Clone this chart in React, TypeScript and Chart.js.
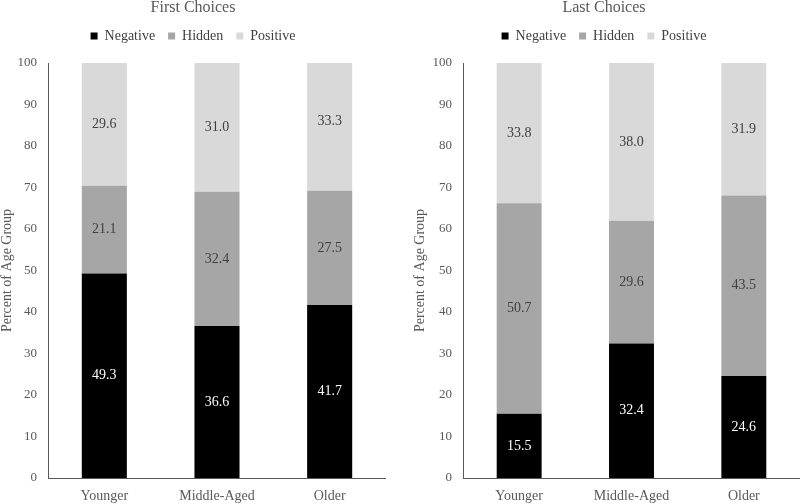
import React, { useEffect, useRef } from "react";
import { Chart, registerables } from "chart.js";

Chart.register(...registerables);

const categories = ["Younger", "Middle-Aged", "Older"];
const seriesNames = ["Negative", "Hidden", "Positive"];
const seriesColors = ["#000000", "#a6a6a6", "#d9d9d9"];
const labelColors = ["#ffffff", "#404040", "#404040"];

const firstNegative = [49.3, 36.6, 41.7];
const firstHidden = [21.1, 32.4, 27.5];
const firstPositive = [29.6, 31.0, 33.3];

const lastNegative = [15.5, 32.4, 24.6];
const lastHidden = [50.7, 29.6, 43.5];
const lastPositive = [33.8, 38.0, 31.9];

const FONT = "'Liberation Serif', 'Times New Roman', serif";

const valueLabels = {
  id: "valueLabels",
  afterDatasetsDraw(chart: any) {
    const ctx = chart.ctx;
    ctx.save();
    ctx.font = `14px ${FONT}`;
    ctx.textAlign = "center";
    ctx.textBaseline = "middle";
    chart.data.datasets.forEach((ds: any, di: number) => {
      const meta = chart.getDatasetMeta(di);
      meta.data.forEach((el: any, i: number) => {
        const v = ds.data[i];
        ctx.fillStyle = labelColors[di];
        ctx.fillText(v.toFixed(1), el.x, (el.y + el.base) / 2);
      });
    });
    ctx.restore();
  },
};

function makeConfig(title: string, series: number[][], yWidth: number, yTitlePad: number): any {
  return {
    type: "bar",
    data: {
      labels: categories,
      datasets: series.map((d, i) => ({
        label: seriesNames[i],
        data: d,
        backgroundColor: seriesColors[i],
        borderWidth: 0,
        categoryPercentage: 1,
        barPercentage: 0.4,
      })),
    },
    options: {
      responsive: false,
      animation: false,
      layout: { padding: 0 },
      plugins: {
        title: {
          display: true,
          text: title,
          color: "#595959",
          font: { family: FONT, size: 16, weight: "normal", lineHeight: 1 },
          padding: { top: 0, bottom: 0 },
        },
        subtitle: {
          display: true,
          text: "",
          weight: 500,
          font: { family: FONT, size: 10, lineHeight: 1 },
          padding: 0,
        },
        legend: {
          display: true,
          position: "top",
          labels: {
            boxWidth: 7,
            boxHeight: 7,
            padding: 13,
            color: "#404040",
            font: { family: FONT, size: 14 },
          },
        },
        tooltip: { enabled: false },
      },
      scales: {
        x: {
          stacked: true,
          grid: { display: false, drawTicks: false, tickLength: 0 },
          border: { display: true, color: "#595959", width: 1 },
          ticks: {
            color: "#595959",
            padding: 10,
            font: { family: FONT, size: 14 },
          },
          afterFit: (s: any) => {
            s.height = 26;
          },
        },
        y: {
          stacked: true,
          min: 0,
          max: 100,
          grid: { display: false, drawTicks: false, tickLength: 0 },
          border: { display: true, color: "#595959", width: 1 },
          ticks: {
            stepSize: 10,
            color: "#595959",
            padding: 11,
            font: { family: FONT, size: 13 },
          },
          title: {
            display: true,
            text: "Percent of Age Group",
            color: "#595959",
            font: { family: FONT, size: 14, lineHeight: 1 },
            padding: { top: yTitlePad, bottom: 0 },
          },
          afterFit: (s: any) => {
            s.width = yWidth;
          },
        },
      },
    },
    plugins: [valueLabels],
  };
}

function Panel(props: { config: any; left: number; width: number }) {
  const ref = useRef<HTMLCanvasElement | null>(null);
  useEffect(() => {
    const chart = new Chart(ref.current as HTMLCanvasElement, props.config);
    return () => chart.destroy();
  }, []);
  return (
    <canvas
      ref={ref}
      width={props.width}
      height={504}
      style={{ position: "absolute", left: props.left, top: 0, width: props.width, height: 504 }}
    />
  );
}

export default function App() {
  const firstConfig = makeConfig("First Choices", [firstNegative, firstHidden, firstPositive], 48, 0);
  const lastConfig = makeConfig("Last Choices", [lastNegative, lastHidden, lastPositive], 55, 5);
  return (
    <div style={{ position: "fixed", left: 0, top: 0, width: 800, height: 504, background: "#fff" }}>
      <Panel config={firstConfig} left={0} width={386} />
      <Panel config={lastConfig} left={408} width={392} />
    </div>
  );
}
